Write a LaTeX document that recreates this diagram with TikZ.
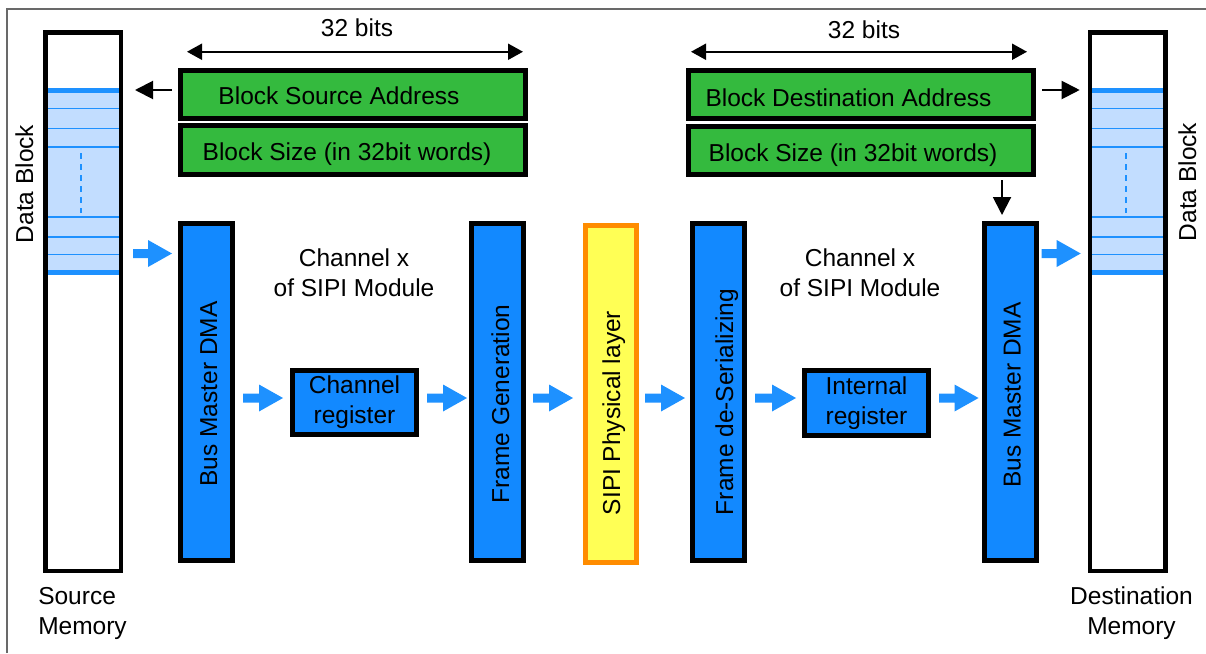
\documentclass[tikz,border=0pt]{standalone}
\usepackage{fontspec}
\setmainfont{Liberation Sans}
\usetikzlibrary{arrows.meta,calc}
\definecolor{boxgreen}{RGB}{52,186,62}
\definecolor{boxblue}{RGB}{18,137,255}
\definecolor{arrblue}{RGB}{30,145,255}
\definecolor{datafill}{RGB}{194,221,255}
\definecolor{dataline}{RGB}{30,145,255}
\definecolor{phyyellow}{RGB}{255,255,85}
\definecolor{phyorange}{RGB}{255,140,0}
\definecolor{framegray}{RGB}{105,105,105}
\tikzset{
  txt/.style={font=\fontsize{24.5}{30}\selectfont, inner sep=0pt},
  membox/.style={draw=black, line width=4.5pt, minimum width=75.5pt, minimum height=538.5pt, inner sep=0pt},
  greenbox/.style={draw=black, fill=boxgreen, line width=5pt, minimum width=345pt, minimum height=48.5pt, inner sep=0pt},
  colbox/.style={draw=black, fill=boxblue, line width=5pt, minimum width=52pt, minimum height=337pt, inner sep=0pt},
  phybox/.style={draw=phyorange, fill=phyyellow, line width=5pt, minimum width=51pt, minimum height=337pt, inner sep=0pt},
  regbox/.style={draw=black, fill=boxblue, line width=5pt, minimum width=124pt, minimum height=64.5pt, inner sep=0pt, txt, align=center},
  vtxt/.style={txt, rotate=90, anchor=base},
  htxt/.style={txt, anchor=base},
  blkarrow/.style={-{Triangle[length=18pt,width=18pt]}, line width=2pt},
  dimarrow/.style={{Triangle[length=15pt,width=16pt]}-{Triangle[length=15pt,width=16pt]}, line width=2pt},
  bluearr/.style={fill=arrblue, to path={let \p1=(\tikztostart), \p2=(\tikztotarget) in
     (\x1,\y1+4.5pt) -- (\x2-24pt,\y1+4.5pt) -- (\x2-24pt,\y1+13.5pt) -- (\x2,\y1)
     -- (\x2-24pt,\y1-13.5pt) -- (\x2-24pt,\y1-4.5pt) -- (\x1,\y1-4.5pt) -- cycle}},
  dline/.style={draw=dataline, line width=1.5pt},
}
\begin{document}
\begin{tikzpicture}[x=1pt,y=-1pt]
\useasboundingbox (0,0) rectangle (1206,653);
% outer frame
\draw[framegray, line width=1.5pt] (7,653) -- (7,9) -- (1206,9);

% helper rows
\coordinate (ytop) at (0,253.5);
\coordinate (ymid) at (0,398);
\coordinate (yblk) at (0,90);
\coordinate (xdown) at (1002,0);

% data blocks
\fill[datafill] (45,88) rectangle (121,275);
\draw[dataline, line width=5pt] (45,90.8) -- (121,90.8) (45,272.5) -- (121,272.5);
\foreach \yy in {108.7,128.7,147,217,237,254.7} \draw[dline] (45,\yy) -- (121,\yy);
\draw[dline, dash pattern=on 6pt off 5pt] (81,153) -- (81,213);

\fill[datafill] (1090,88) rectangle (1166,275);
\draw[dataline, line width=5pt] (1090,90.8) -- (1166,90.8) (1090,272.5) -- (1166,272.5);
\foreach \yy in {108.7,128.7,147,217,237,254.7} \draw[dline] (1090,\yy) -- (1166,\yy);
\draw[dline, dash pattern=on 6pt off 5pt] (1126,153) -- (1126,213);

% memories
\node[membox] (srcmem) at (83,301.5) {};
\node[membox] (dstmem) at (1127.7,301.5) {};
\node[vtxt] (dbl) at (33,184) {Data Block};
\node[vtxt] (dbr) at (1196,182) {Data Block};
\node[txt, align=left] (srclbl) at (82.5,613.5) {Source\\Memory};
\node[txt, align=center] (dstlbl) at (1131.5,613) {Destination\\Memory};

% green registers
\node[greenbox] (gsa) at (353,94.5) {};
\node[greenbox] (gss) at (353,150) {};
\node[greenbox] (gda) at (861,94.5) {};
\node[greenbox] (gds) at (861,150.5) {};
\node[htxt] (tsa) at (339,104.3) {Block Source Address};
\node[htxt] (tss) at (347,160) {Block Size (in 32bit words)};
\node[htxt] (tda) at (848.5,106) {Block Destination Address};
\node[htxt] (tds) at (853,161.5) {Block Size (in 32bit words)};

% 32 bits dimension lines
\draw[dimarrow] ($(gsa.north west)+(9,-16)$) -- ($(gsa.north east)+(-5,-16)$);
\draw[dimarrow] ($(gda.north west)+(5,-16)$) -- ($(gda.north east)+(-9,-16)$);
\node[htxt] (b32l) at (357,36.7) {32 bits};
\node[htxt] (b32r) at (864,38.3) {32 bits};

% columns
\node[colbox] (dmaL) at (206.5,392) {};
\node[colbox] (fg) at (497.5,392) {};
\node[phybox] (sipi) at (611,394) {};
\node[colbox] (fds) at (718.5,392) {};
\node[colbox] (dmaR) at (1010,392) {};
\node[vtxt] (tdmaL) at (217,394) {Bus Master DMA};
\node[vtxt] (tfg) at (509,404) {Frame Generation};
\node[vtxt] (tsipi) at (620,413) {SIPI Physical layer};
\node[vtxt] (tfds) at (733,402) {Frame de-Serializing};
\node[vtxt] (tdmaR) at (1020.5,395) {Bus Master DMA};

% small registers
\node[regbox] (chreg) at (354.5,402.5) {Channel\\register};
\node[regbox] (ir) at (866.5,403) {Internal\\register};

% module labels
\node[txt, align=center] (modl) at (354,273) {Channel x\\of SIPI Module};
\node[txt, align=center] (modr) at (860,273) {Channel x\\of SIPI Module};

% black arrows
\draw[blkarrow] ($(gsa.west|-yblk)+(-6,0)$) -- ($(srcmem.east|-yblk)+(12,0)$);
\draw[blkarrow] ($(gda.east|-yblk)+(6,0)$) -- ($(dstmem.west|-yblk)+(-8,0)$);
\draw[blkarrow] ($(gds.south-|xdown)+(0,3)$) -- ($(dmaR.north-|xdown)+(0,-6)$);

% blue flow arrows
\fill[bluearr] ($(srcmem.east|-ytop)+(10,0)$) to ($(dmaL.west|-ytop)+(-6,0)$);
\fill[bluearr] ($(dmaL.east|-ymid)+(8,0)$) to ($(chreg.west|-ymid)+(-7,0)$);
\fill[bluearr] ($(chreg.east|-ymid)+(8,0)$) to ($(fg.west|-ymid)+(-2,0)$);
\fill[bluearr] ($(fg.east|-ymid)+(7,0)$) to ($(sipi.west|-ymid)+(-10,0)$);
\fill[bluearr] ($(sipi.east|-ymid)+(6,0)$) to ($(fds.west|-ymid)+(-5,0)$);
\fill[bluearr] ($(fds.east|-ymid)+(8,0)$) to ($(ir.west|-ymid)+(-6,0)$);
\fill[bluearr] ($(ir.east|-ymid)+(8,0)$) to ($(dmaR.west|-ymid)+(-3,0)$);
\fill[bluearr] ($(dmaR.east|-ytop)+(3,0)$) to ($(dstmem.west|-ytop)+(-7,0)$);
\end{tikzpicture}
\end{document}
